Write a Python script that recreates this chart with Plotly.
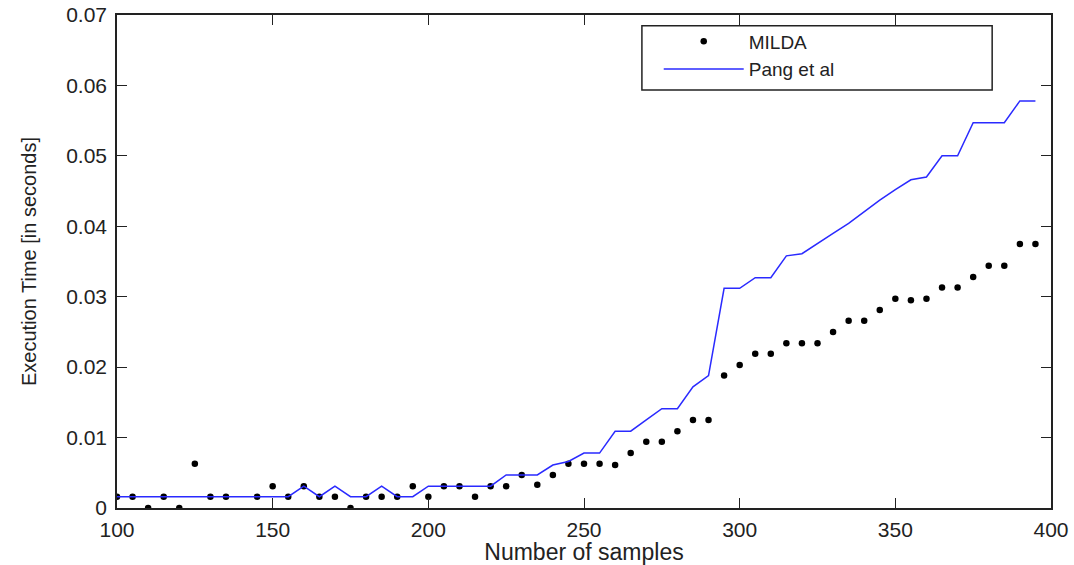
import plotly.graph_objects as go

milda_x = [100, 105, 110, 115, 120, 125, 130, 135, 145, 150, 155, 160, 165, 170, 175,
           180, 185, 190, 195, 200, 205, 210, 215, 220, 225, 230, 235, 240, 245, 250,
           255, 260, 265, 270, 275, 280, 285, 290, 295, 300, 305, 310, 315, 320, 325,
           330, 335, 340, 345, 350, 355, 360, 365, 370, 375, 380, 385, 390, 395]
milda_y = [0.0016, 0.0016, 0.0, 0.0016, 0.0, 0.0063, 0.0016, 0.0016, 0.0016, 0.0031,
           0.0016, 0.0031, 0.0016, 0.0016, 0.0, 0.0016, 0.0016, 0.0016, 0.0031, 0.0016,
           0.0031, 0.0031, 0.0016, 0.0031, 0.0031, 0.0047, 0.0033, 0.0047, 0.0063, 0.0063,
           0.0063, 0.0061, 0.0078, 0.0094, 0.0094, 0.0109, 0.0125, 0.0125, 0.0188, 0.0203,
           0.0219, 0.0219, 0.0234, 0.0234, 0.0234, 0.0250, 0.0266, 0.0266, 0.0281, 0.0297,
           0.0295, 0.0297, 0.0313, 0.0313, 0.0328, 0.0344, 0.0344, 0.0375, 0.0375]

pang_x = list(range(100, 400, 5))
pang_y = [0.0016] * 12 + [
    0.0031, 0.0016, 0.0031, 0.0016, 0.0016, 0.0031, 0.0016, 0.0016,
    0.0031, 0.0031, 0.0031, 0.0031, 0.0031, 0.0047, 0.0047, 0.0047,
    0.0061, 0.0066, 0.0078, 0.0078, 0.0109, 0.0109, 0.0125, 0.0141,
    0.0141, 0.0172, 0.0188, 0.0312, 0.0312, 0.0327, 0.0327, 0.0358,
    0.0361, 0.0376, 0.0390, 0.0404, 0.0421, 0.0437, 0.0452, 0.0466,
    0.0470, 0.0500, 0.0500, 0.0547, 0.0547, 0.0547, 0.0578, 0.0578]

x_ticks = [100, 150, 200, 250, 300, 350, 400]
y_ticks = [0, 0.01, 0.02, 0.03, 0.04, 0.05, 0.06, 0.07]
y_tick_labels = ["0", "0.01", "0.02", "0.03", "0.04", "0.05", "0.06", "0.07"]

FONT = "Liberation Sans, Arial, sans-serif"

fig = go.Figure()
fig.add_trace(go.Scatter(x=milda_x, y=milda_y, mode="markers", name="MILDA",
                         marker=dict(color="black", size=6.5, symbol="circle")))
fig.add_trace(go.Scatter(x=pang_x, y=pang_y, mode="lines", name="Pang et al",
                         line=dict(color="#2a2aff", width=1.5)))

axis_common = dict(showgrid=False, zeroline=False, showline=True, linecolor="#222",
                   linewidth=1.5, mirror="ticks", ticks="inside", ticklen=10,
                   tickcolor="#222", tickwidth=1.2, automargin=False,
                   tickfont=dict(family=FONT, size=21, color="#222"))

fig.update_layout(
    width=1074, height=565,
    margin=dict(l=117, r=23, t=15, b=57),
    paper_bgcolor="white", plot_bgcolor="white",
    font=dict(family=FONT, color="#222"),
    xaxis=dict(range=[100, 400], tickvals=x_ticks, ticktext=[str(v) for v in x_ticks],
               title=dict(text="Number of samples", font=dict(family=FONT, size=23), standoff=4),
               ticklabelstandoff=2, **axis_common),
    yaxis=dict(range=[0, 0.07], tickvals=y_ticks, ticktext=y_tick_labels,
               title=dict(text="Execution Time [in seconds]", font=dict(family=FONT, size=20), standoff=24),
               ticklabelstandoff=4, **axis_common),
    legend=dict(x=0.580, y=0.985, xanchor="left", yanchor="top",
                bgcolor="rgba(0,0,0,0)", borderwidth=0,
                font=dict(family=FONT, size=19, color="#222"),
                itemwidth=80, tracegroupgap=0),
    shapes=[dict(type="rect", xref="paper", yref="paper", x0=0.562, x1=0.937,
                 y0=0.848, y1=0.978, fillcolor="white",
                 line=dict(color="#222", width=1.5), layer="above")],
    showlegend=True,
)

fig.write_html("out.html")
